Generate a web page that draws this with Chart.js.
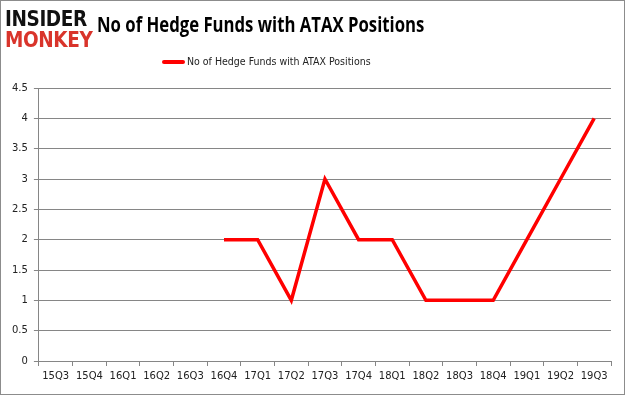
<!DOCTYPE html>
<html>
<head>
<meta charset="utf-8">
<script src="https://cdn.jsdelivr.net/npm/chart.js@4"></script>
<style>
  body { margin: 0; background: #fff; }
  #wrap { position: relative; width: 623px; height: 393px; border: 1px solid #8c8c8c; background: #fff; overflow: hidden; }
  #chart { position: absolute; left: 0; top: 0; }
  .logo { position: absolute; left: 4px; font-family: "DejaVu Sans"; font-weight: bold; font-size: 22px; line-height: 22px; transform-origin: 0 0; transform: scale(0.84, 0.95); letter-spacing: -0.5px; }
  #title { position: absolute; left: 96px; top: 7px; font-family: "Open Sans", "Liberation Sans"; font-weight: bold; font-size: 22px; color: #000; transform-origin: 0 0; transform: scaleX(0.76); white-space: nowrap; }
  #legend { position: absolute; left: 161px; top: 54px; font-family: "DejaVu Sans Condensed", "DejaVu Sans"; font-size: 10.5px; color: #222; white-space: nowrap; }
  #legend span.swatch { display: inline-block; width: 23px; height: 4px; background: #ff0000; border-radius: 2px; vertical-align: middle; margin-right: 2px; }
</style>
</head>
<body>
<div id="wrap">
  <canvas id="chart" width="623" height="393"></canvas>
  <div class="logo" style="top: 8px; color: #111;">INSIDER</div>
  <div class="logo" style="top: 29px; color: #d9342b;">MONKEY</div>
  <div id="title">No of Hedge Funds with ATAX Positions</div>
  <div id="legend"><span class="swatch"></span>No of Hedge Funds with ATAX Positions</div>
</div>
<script>
var quarters = ["15Q3", "15Q4", "16Q1", "16Q2", "16Q3", "16Q4", "17Q1", "17Q2", "17Q3",
  "17Q4", "18Q1", "18Q2", "18Q3", "18Q4", "19Q1", "19Q2", "19Q3"];
var hedgeFunds = [null, null, null, null, null, 2, 2, 1, 3, 2, 2, 1, 1, 1, 2, 3, 4];
var seriesName = "No of Hedge Funds with ATAX Positions";

let ctx = document.getElementById("chart").getContext("2d");
let lineChart = new Chart(ctx, {
  type: "line",
  data: {
    labels: quarters,
    datasets: [
      {
        label: seriesName,
        data: hedgeFunds,
        borderColor: "#ff0000",
        borderWidth: 3.5,
        pointRadius: 0,
        fill: false,
        tension: 0,
        spanGaps: false
      }
    ]
  },
  options: {
    responsive: false,
    animation: false,
    layout: { padding: { top: 87, right: 13, left: 5, bottom: 8 } },
    plugins: {
      legend: { display: false },
      title: { display: false },
      tooltip: { enabled: false }
    },
    scales: {
      x: {
        offset: true,
        grid: { display: true, drawOnChartArea: false, offset: true, color: "#868686", tickLength: 5 },
        border: { color: "#868686" },
        ticks: { color: "#222", font: { family: "DejaVu Sans", size: 10 }, maxRotation: 0, autoSkip: false, padding: 4 }
      },
      y: {
        min: 0,
        max: 4.5,
        ticks: {
          stepSize: 0.5, color: "#222", font: { family: "DejaVu Sans", size: 10 }, padding: 6,
          callback: function(v) { return String(v); }
        },
        grid: { color: "#868686", tickLength: 5 },
        border: { color: "#868686" }
      }
    }
  }
});
</script>
</body>
</html>
